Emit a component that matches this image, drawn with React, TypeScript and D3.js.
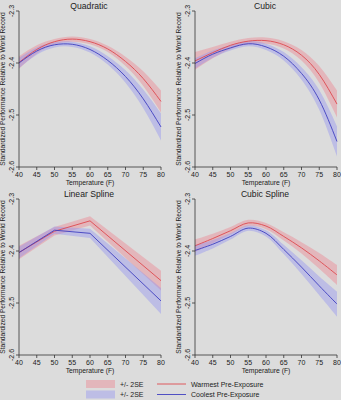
import React from "react";
import * as d3 from "d3";

const temps = [40, 45, 50, 55, 60, 65, 70, 75, 80];
const knots = [40, 50, 60, 80];

const quadWarm = [-2.399, -2.374, -2.359, -2.354, -2.359, -2.373, -2.397, -2.43, -2.474];
const quadWarmSE = [0.012, 0.008, 0.005, 0.005, 0.005, 0.006, 0.009, 0.014, 0.021];
const quadCool = [-2.4, -2.377, -2.365, -2.364, -2.374, -2.395, -2.426, -2.469, -2.523];
const quadCoolSE = [0.01, 0.007, 0.005, 0.005, 0.006, 0.008, 0.012, 0.018, 0.026];

const cubWarm = [-2.396, -2.38, -2.366, -2.358, -2.357, -2.365, -2.385, -2.422, -2.479];
const cubWarmSE = [0.017, 0.011, 0.007, 0.006, 0.006, 0.007, 0.01, 0.016, 0.026];
const cubCool = [-2.401, -2.383, -2.371, -2.363, -2.369, -2.387, -2.42, -2.471, -2.551];
const cubCoolSE = [0.01, 0.007, 0.005, 0.005, 0.006, 0.008, 0.012, 0.019, 0.029];

const linWarm = [-2.403, -2.362, -2.342, -2.457];
const linWarmSE = [0.013, 0.008, 0.009, 0.019];
const linCool = [-2.403, -2.36, -2.366, -2.496];
const linCoolSE = [0.011, 0.007, 0.009, 0.025];

const splWarm = [-2.39, -2.376, -2.361, -2.346, -2.352, -2.372, -2.394, -2.419, -2.446];
const splWarmSE = [0.012, 0.009, 0.007, 0.006, 0.006, 0.008, 0.011, 0.015, 0.019];
const splCool = [-2.399, -2.387, -2.372, -2.356, -2.366, -2.397, -2.431, -2.467, -2.502];
const splCoolSE = [0.01, 0.008, 0.006, 0.005, 0.006, 0.009, 0.013, 0.018, 0.024];

const xTicks = [40, 45, 50, 55, 60, 65, 70, 75, 80];
const yTicks = [-2.3, -2.4, -2.5, -2.6];
const titles = ["Quadratic", "Cubic", "Linear Spline", "Cubic Spline"];
const legendLabels = ["+/- 2SE", "+/- 2SE", "Warmest Pre-Exposure", "Coolest Pre-Exposure"];

const RED = "#de4a4f";
const BLUE = "#4040c0";
const RED_BAND = "rgba(240,120,135,0.38)";
const BLUE_BAND = "rgba(145,145,240,0.42)";
const BG = "#dcdcdc";
const FONT = "Liberation Sans, Arial, sans-serif";

type Panel = {
  title: string;
  x: number[];
  warm: number[];
  warmSE: number[];
  cool: number[];
  coolSE: number[];
  curve: d3.CurveFactory;
  left: number;
  top: number;
};

const panels: Panel[] = [
  { title: titles[0], x: temps, warm: quadWarm, warmSE: quadWarmSE, cool: quadCool, coolSE: quadCoolSE, curve: d3.curveNatural, left: 19, top: 11 },
  { title: titles[1], x: temps, warm: cubWarm, warmSE: cubWarmSE, cool: cubCool, coolSE: cubCoolSE, curve: d3.curveNatural, left: 195, top: 11 },
  { title: titles[2], x: knots, warm: linWarm, warmSE: linWarmSE, cool: linCool, coolSE: linCoolSE, curve: d3.curveLinear, left: 19, top: 199 },
  { title: titles[3], x: temps, warm: splWarm, warmSE: splWarmSE, cool: splCool, coolSE: splCoolSE, curve: d3.curveCatmullRom.alpha(0.5), left: 195, top: 199 },
];

const PW = 142;
const PH = 156;

function PanelView({ p }: { p: Panel }) {
  const x = d3.scaleLinear().domain([40, 80]).range([p.left, p.left + PW]);
  const y = d3.scaleLinear().domain([-2.6, -2.3]).range([p.top + PH, p.top]);
  const idx = p.x.map((_, i) => i);
  const line = (vals: number[]) =>
    d3.line<number>().x((i) => x(p.x[i])).y((i) => y(vals[i])).curve(p.curve)(idx) || "";
  const area = (vals: number[], se: number[]) =>
    d3
      .area<number>()
      .x((i) => x(p.x[i]))
      .y0((i) => y(vals[i] - se[i]))
      .y1((i) => y(vals[i] + se[i]))
      .curve(p.curve)(idx) || "";
  const bottom = p.top + PH;
  const midY = (p.top + bottom) / 2;
  return (
    <g>
      <text x={p.left + PW / 2 - 1} y={p.top - 2} textAnchor="middle" fontSize={8.6} fill="#222">
        {p.title}
      </text>
      <path d={area(p.warm, p.warmSE)} fill={RED_BAND} stroke="none" />
      <path d={area(p.cool, p.coolSE)} fill={BLUE_BAND} stroke="none" />
      <path d={line(p.warm)} fill="none" stroke={RED} strokeWidth={0.9} />
      <path d={line(p.cool)} fill="none" stroke={BLUE} strokeWidth={0.9} />
      <line x1={p.left} x2={p.left} y1={p.top} y2={bottom} stroke="#333" strokeWidth={0.8} />
      <line x1={p.left} x2={p.left + PW} y1={bottom} y2={bottom} stroke="#333" strokeWidth={0.8} />
      {yTicks.map((t) => (
        <g key={t}>
          <line x1={p.left - 3} x2={p.left} y1={y(t)} y2={y(t)} stroke="#333" strokeWidth={0.8} />
          <text
            transform={`translate(${p.left - 5},${y(t)}) rotate(-90)`}
            textAnchor="middle"
            fontSize={7}
            fill="#222"
          >
            {t.toFixed(1)}
          </text>
        </g>
      ))}
      {xTicks.map((t) => (
        <g key={t}>
          <line x1={x(t)} x2={x(t)} y1={bottom} y2={bottom + 3} stroke="#333" strokeWidth={0.8} />
          <text x={x(t)} y={bottom + 10} textAnchor="middle" fontSize={7} fill="#222">
            {t}
          </text>
        </g>
      ))}
      <text x={p.left + PW / 2} y={bottom + 18} textAnchor="middle" fontSize={6.8} fill="#222">
        Temperature (F)
      </text>
      <text
        transform={`translate(${p.left - 14},${midY}) rotate(-90)`}
        textAnchor="middle"
        fontSize={6.6}
        fill="#222"
      >
        Standardized Performance Relative to World Record
      </text>
    </g>
  );
}

export default function App() {
  return (
    <svg
      width={341}
      height={400}
      style={{ position: "absolute", left: 0, top: 0, background: BG }}
      fontFamily={FONT}
    >
      <rect x={0} y={0} width={341} height={400} fill={BG} />
      {panels.map((p) => (
        <PanelView key={p.title} p={p} />
      ))}
      <g>
        <rect x={86} y={380} width={29} height={8} fill={RED_BAND} />
        <rect x={86} y={390.5} width={29} height={8} fill={BLUE_BAND} />
        <text x={120} y={386.5} fontSize={7} fill="#222">{legendLabels[0]}</text>
        <text x={120} y={397} fontSize={7} fill="#222">{legendLabels[1]}</text>
        <line x1={157} x2={186} y1={384} y2={384} stroke={RED} strokeWidth={0.9} />
        <line x1={157} x2={186} y1={394.5} y2={394.5} stroke={BLUE} strokeWidth={0.9} />
        <text x={191} y={386.5} fontSize={7} fill="#222">{legendLabels[2]}</text>
        <text x={191} y={397} fontSize={7} fill="#222">{legendLabels[3]}</text>
      </g>
    </svg>
  );
}
